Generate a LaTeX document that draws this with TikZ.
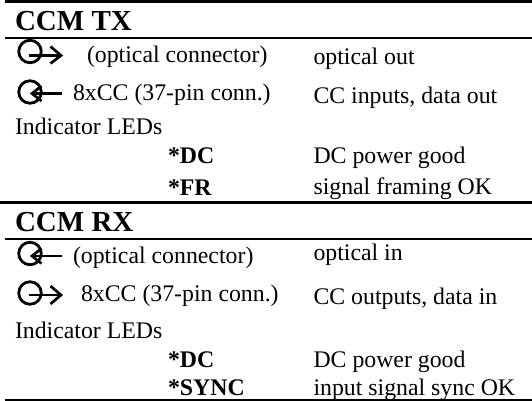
\documentclass[tikz,border=0pt]{standalone}
\usepackage{fontspec}
\setmainfont{Liberation Serif}
\tikzset{
 txt/.style={anchor=base west,inner sep=0pt,outer sep=0pt,font=\fontsize{23.8}{26}\selectfont},
 head/.style={anchor=base west,inner sep=0pt,outer sep=0pt,font=\fontsize{29}{32}\selectfont\bfseries},
 led/.style={anchor=base west,inner sep=0pt,outer sep=0pt,font=\fontsize{23.8}{26}\selectfont\bfseries},
 ring/.style={draw,line width=2.8pt,circle,minimum size=22.5pt,inner sep=0pt,outer sep=0pt},
 wire/.style={line width=2.1pt},
 chev/.style={line width=2.7pt},
 rule/.style={line width=#1,black}
}
\begin{document}
\begin{tikzpicture}[x=1pt,y=-1pt]
\useasboundingbox (0,0) rectangle (532,401);
\fill[white] (0,0) rectangle (532,401);
\draw[rule=3pt] (5,1.5) -- (532,1.5);
\draw[rule=2pt] (5,38) -- (532,38);
\draw[rule=3pt] (0,202.5) -- (532,202.5);
\draw[rule=2pt] (5,238.5) -- (532,238.5);
\draw[rule=1.5pt] (5,400) -- (532,400);
\node[head] (h1) at (15,31) {CCM TX};
\node[head] (h2) at (15,231) {CCM RX};
\node[txt] (a1) at (87,63) {(optical connector)};
\node[txt] (a2) at (73,100) {8xCC (37-pin conn.)};
\node[txt] (a3) at (15,134) {Indicator LEDs};
\node[led] (a4) at (168,163) {*DC};
\node[led] (a5) at (168,195) {*FR};
\node[txt] (b1) at (313.5,65) {optical out};
\node[txt] (b2) at (313.5,103) {CC inputs, data out};
\node[txt] (b3) at (313.5,163) {DC power good};
\node[txt] (b4) at (313.5,194) {signal framing OK};
\node[txt] (c1) at (73,263) {(optical connector)};
\node[txt] (c2) at (81,301) {8xCC (37-pin conn.)};
\node[txt] (c3) at (15,338) {Indicator LEDs};
\node[led] (c4) at (168,367) {*DC};
\node[led] (c5) at (168,395) {*SYNC};
\node[txt] (d1) at (313.5,260) {optical in};
\node[txt] (d2) at (313.5,304) {CC outputs, data in};
\node[txt] (d3) at (313.5,367) {DC power good};
\node[txt] (d4) at (313.5,395) {input signal sync OK};
% out icon 1
\node[ring] (r1) at (30,51.5) {};
\coordinate (s1) at (29,55.5);
\coordinate (t1) at (61,55.5);
\draw[wire] (s1) -- (t1);
\draw[chev] (50.5,46.5) -- (t1) -- (50.5,63.5);
% in icon 1
\node[ring] (r2) at (30,92) {};
\coordinate (e2) at (62,93.5);
\coordinate (p2) at (32,93.5);
\draw[wire] (e2) -- (p2);
\draw[chev] (41.5,86) -- (p2) -- (41.5,101);
% in icon 2
\node[ring] (r3) at (30,253.5) {};
\coordinate (e3) at (62,256);
\coordinate (p3) at (32,256);
\draw[wire] (e3) -- (p3);
\draw[chev] (41.5,248.5) -- (p3) -- (41.5,263.5);
% out icon 2
\node[ring] (r4) at (30,293) {};
\coordinate (s4) at (29,295);
\coordinate (t4) at (61,295);
\draw[wire] (s4) -- (t4);
\draw[chev] (50.5,286) -- (t4) -- (50.5,304);
\end{tikzpicture}
\end{document}
